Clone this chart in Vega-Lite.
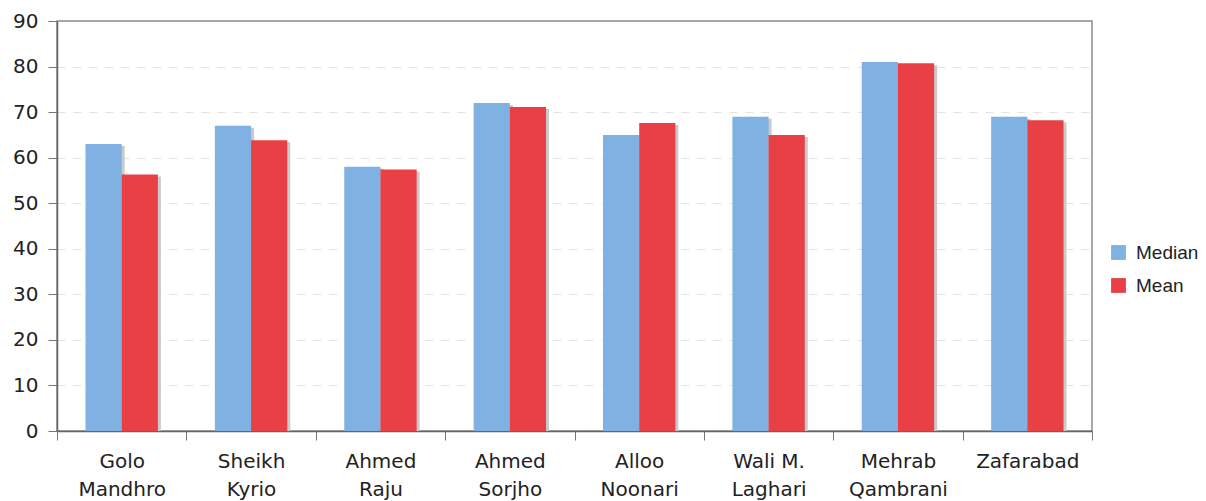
{
  "$schema": "https://vega.github.io/schema/vega-lite/v6.json",
  "autosize": {"type": "none"},
  "padding": {"left": 57, "top": 21, "right": 114, "bottom": 70},
  "width": 1035,
  "height": 410,
  "background": "white",
  "config": {
    "view": {"stroke": "#8a8a8a", "strokeWidth": 1.5},
    "font": "DejaVu Sans"
  },
  "data": {
    "values": [
      {"site": "Golo|Mandhro", "stat": "Median", "value": 63},
      {"site": "Golo|Mandhro", "stat": "Mean", "value": 56.3},
      {"site": "Sheikh|Kyrio", "stat": "Median", "value": 67},
      {"site": "Sheikh|Kyrio", "stat": "Mean", "value": 63.8},
      {"site": "Ahmed|Raju", "stat": "Median", "value": 58},
      {"site": "Ahmed|Raju", "stat": "Mean", "value": 57.4},
      {"site": "Ahmed|Sorjho", "stat": "Median", "value": 72},
      {"site": "Ahmed|Sorjho", "stat": "Mean", "value": 71.1},
      {"site": "Alloo|Noonari", "stat": "Median", "value": 65},
      {"site": "Alloo|Noonari", "stat": "Mean", "value": 67.6},
      {"site": "Wali M.|Laghari", "stat": "Median", "value": 69},
      {"site": "Wali M.|Laghari", "stat": "Mean", "value": 65},
      {"site": "Mehrab|Qambrani", "stat": "Median", "value": 81},
      {"site": "Mehrab|Qambrani", "stat": "Mean", "value": 80.7},
      {"site": "Zafarabad", "stat": "Median", "value": 69},
      {"site": "Zafarabad", "stat": "Mean", "value": 68.2}
    ]
  },
  "encoding": {
    "x": {
      "field": "site", "type": "nominal", "sort": null,
      "scale": {"paddingInner": 0, "paddingOuter": 0},
      "axis": {
        "title": null, "labelAngle": 0, "tickBand": "extent",
        "labelExpr": "split(datum.label, '|')",
        "labelFontSize": 20, "labelColor": "#222", "labelFont": "DejaVu Sans",
        "labelPadding": 11, "labelLineHeight": 28,
        "tickSize": 9, "tickColor": "#777", "domainColor": "#666", "domainWidth": 1.5,
        "grid": false
      }
    },
    "y": {
      "field": "value", "type": "quantitative",
      "scale": {"domain": [0, 90], "nice": false},
      "axis": {
        "title": null, "values": [0,10,20,30,40,50,60,70,80,90],
        "labelFontSize": 20, "labelColor": "#222", "labelFont": "DejaVu Sans",
        "labelPadding": 10, "tickSize": 9, "tickColor": "#777",
        "domainColor": "#666", "domainWidth": 1.5,
        "grid": true, "gridColor": "#e3e3e3", "gridDash": [8, 8], "gridWidth": 1,
        "gridOpacity": {"condition": {"test": "datum.value === 90 || datum.value === 0", "value": 0}, "value": 1}
      }
    }
  },
  "layer": [
    {
      "mark": {"type": "bar", "color": "#cacaca", "yOffset": 2, "clip": true},
      "encoding": {
        "xOffset": {"field": "stat", "type": "nominal", "sort": ["Median", "Mean"], "scale": {"paddingInner": 0, "paddingOuter": 0, "range": [31.5, 103.9]}}
      }
    },
    {
      "mark": {"type": "bar"},
      "encoding": {
        "xOffset": {"field": "stat", "type": "nominal", "sort": ["Median", "Mean"], "scale": {"paddingInner": 0, "paddingOuter": 0, "range": [28.5, 100.9]}},
        "color": {
          "field": "stat", "type": "nominal",
          "scale": {"domain": ["Median", "Mean"], "range": ["#7fb2e3", "#e84044"]},
          "legend": {
            "title": null, "orient": "none", "legendX": 1052, "legendY": 222,
            "symbolType": "square", "symbolSize": 220, "symbolStrokeWidth": 0,
            "labelFont": "Liberation Sans", "labelFontSize": 19, "labelColor": "#222",
            "rowPadding": 13, "labelOffset": 8
          }
        }
      }
    }
  ],
  "resolve": {"scale": {"xOffset": "independent"}}
}
